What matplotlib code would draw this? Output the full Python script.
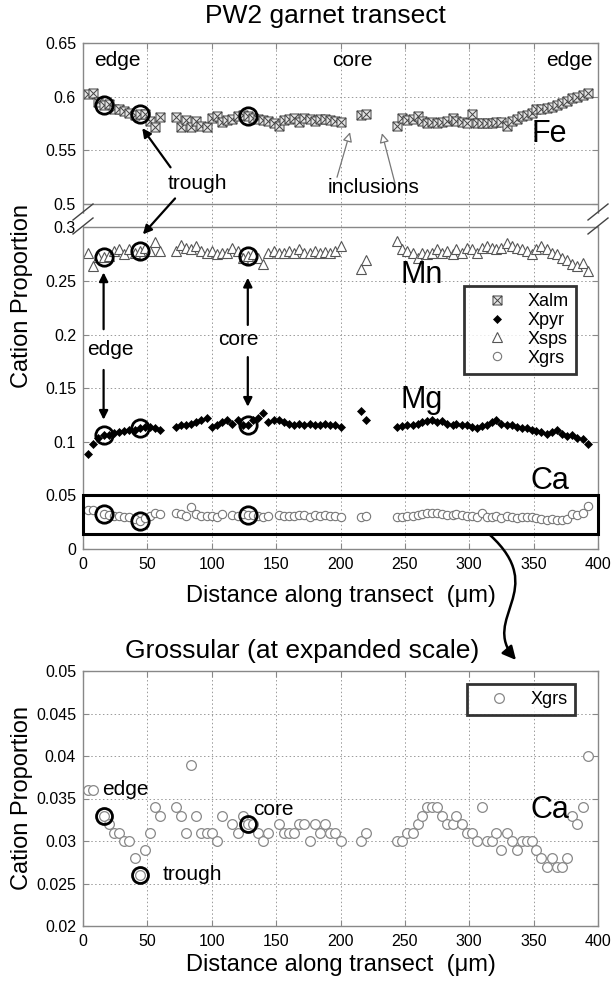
import numpy as np
import matplotlib
matplotlib.use("Agg")
import matplotlib.pyplot as plt
from matplotlib.path import Path
from matplotlib.patches import FancyArrowPatch, Rectangle
from matplotlib.lines import Line2D

plt.rcParams['font.family'] = ['Liberation Sans', 'DejaVu Sans']
nan = np.nan

# distance along transect (um)
dist = [4, 8, 12, 16, 20, 24, 28, 32, 36, 40, 44, 48, 52, 56, 60,
        72, 76, 80, 84, 88, 92, 96, 100, 104, 108, 112, 116, 120, 124, 128,
        132, 136, 140, 144, 148, 152, 156, 160, 164, 168, 172, 176, 180, 184,
        188, 192, 196, 200,
        216, 220,
        244, 248, 252, 256, 260, 263, 267, 271, 275, 279, 283, 287, 290, 294,
        298, 302, 306, 310, 314, 318, 321, 325, 329, 333, 337, 341, 345, 349,
        352, 356, 360, 364, 368, 372, 376, 380, 384, 388, 392]

xalm = [.602, .603, .595, .592, .593, .588, .588, .587, .585, .583, .584, .584, .577, .572, .581,
        .581, .572, .578, .572, .577, .573, .572, .580, .582, .576, .578, .579, .582, .583, .582,
        .580, .579, .578, .577, .575, .573, .578, .579, .580, .576, .580, .579, .577, .579,
        .579, .578, .577, .576,
        .583, .584,
        .573, .5805, .578, .579, .582, .5775, .5755, .576, .5755, .576, .5775, .5805, .5775, .576,
        .5755, .5835, .5755, .5755, .5755, .5755, .576, .576, .573, .5775, .579, .582, .583, .585,
        .588, .588, .5895, .590, .5925, .594, .596, .5985, .600, .6015, .603]

xpyr = [.089, .098, .104, .106, .106, .108, .109, .110, .111, .111, .1125, .114, .114, .1125, .111,
        .114, .1156, .1156, .117, .1187, .1203, .1218, .114, .1156, .1187, .1203, .117, .1203, .1156, .116,
        .1203, .1218, .127, .1187, .1203, .1203, .1187, .117, .1156, .117, .1156, .117, .1156, .116,
        .117, .1156, .116, .114,
        .129, .120,
        .114, .1148, .1156, .116, .117, .1187, .119, .1203, .1187, .119, .117, .116, .117, .116,
        .1156, .114, .113, .1148, .116, .1187, .1203, .117, .116, .1156, .114, .113, .1125, .111,
        .110, .1093, .1077, .1093, .111, .1077, .1055, .106, .1037, .1025, .0984]

xsps = [.276, .264, .272, .272, .273, .278, .2795, .275, .2795, .2763, .278, .281, .278, .286, .278,
        .278, .284, .281, .2795, .2826, .278, .276, .278, .2748, .2763, .2764, .281, .278, .2717, .2732,
        .275, .2717, .2654, .2764, .278, .2764, .2764, .278, .2764, .2795, .2764, .2764, .278, .2764,
        .277, .2764, .278, .2826,
        .2614, .2694,
        .2872, .2795, .278, .2764, .2717, .2764, .275, .2764, .2795, .2764, .278, .275, .2795, .2764,
        .281, .2795, .2764, .281, .2826, .281, .2795, .281, .2857, .2826, .281, .2795, .278, .275,
        .2795, .2826, .2795, .2764, .275, .2717, .270, .2654, .2638, .267, .259]

xgrs = [.036, .036, nan, .033, .032, .031, .031, .030, .030, .028, .026, .029, .031, .034, .033,
        .034, .033, .031, .039, .033, .031, .031, .031, .030, .033, nan, .032, .031, .033, .032,
        .032, .031, .030, .031, nan, .032, .031, .031, .031, .032, .032, .030, .032, .031,
        .032, .031, .031, .030,
        .030, .031,
        .030, .030, .031, .031, .032, .033, .034, .034, .034, .033, .032, .032, .033, .032,
        .031, .031, .030, .034, .030, .030, .031, .029, .031, .030, .029, .030, .030, .030,
        .029, .028, .027, .028, .027, .027, .028, .033, .032, .034, .040]

# highlighted analyses: edge, trough, core
hilite = [3, 10, 29]

yticks_top = [0, 0.05, 0.1, 0.15, 0.2, 0.25, 0.3, 0.5, 0.55, 0.6, 0.65]
ylabels_top = ['0', '0.05', '0.1', '0.15', '0.2', '0.25', '0.3', '0.5', '0.55', '0.6', '0.65']
yticks_bot = [0.02, 0.025, 0.03, 0.035, 0.04, 0.045, 0.05]
ylabels_bot = ['0.02', '0.025', '0.03', '0.035', '0.04', '0.045', '0.05']
xticks = [0, 50, 100, 150, 200, 250, 300, 350, 400]

dist = np.array(dist, float)
xalm = np.array(xalm); xpyr = np.array(xpyr); xsps = np.array(xsps); xgrs = np.array(xgrs)

# broken y axis: squeeze 0.3 - 0.5 into a small gap
GAP = 0.022
def fwd(y):
    y = np.asarray(y, float)
    return np.where(y <= 0.3, y, np.where(y >= 0.5, y - 0.2 + GAP, 0.3 + (y - 0.3) * GAP / 0.2))

def inv(t):
    t = np.asarray(t, float)
    return np.where(t <= 0.3, t, np.where(t >= 0.3 + GAP, t + 0.2 - GAP, 0.3 + (t - 0.3) * 0.2 / GAP))

# square with a cross, for Xalm
alm_marker = Path([(-1, -1), (1, -1), (1, 1), (-1, 1), (-1, -1), (-1, -1), (1, 1), (-1, 1), (1, -1)],
                  [Path.MOVETO, Path.LINETO, Path.LINETO, Path.LINETO, Path.CLOSEPOLY,
                   Path.MOVETO, Path.LINETO, Path.MOVETO, Path.LINETO])

W, H = 612, 985
fig = plt.figure(figsize=(W / 100, H / 100), dpi=100)
ax = fig.add_axes([83 / W, 1 - 549 / H, 515 / W, 506 / H])
ax2 = fig.add_axes([83 / W, 1 - 926 / H, 515 / W, 255 / H])

def style(a):
    for s in a.spines.values():
        s.set_color('#888888')
        s.set_linewidth(1)
    a.tick_params(direction='in', length=4, width=0.8, color='#888888', top=True, right=True,
                  labelsize=11.5, pad=5)
    a.tick_params(axis='x', pad=6)
    a.grid(True, color='#999999', linestyle=(0, (1.5, 2.5)), linewidth=0.7)
    a.set_axisbelow(True)
    a.set_xlim(0, 400)
    a.set_xticks(xticks)
    a.set_xticklabels([str(t) for t in xticks])

def legend_box(a, handles, center):
    lg = a.legend(handles=handles, loc='center', bbox_to_anchor=center, fontsize=13,
                  frameon=True, fancybox=False, numpoints=1, handlelength=2.8,
                  handletextpad=0.3, labelspacing=0.1, borderpad=0.4, borderaxespad=0)
    lg.get_frame().set_edgecolor('k')
    lg.get_frame().set_linewidth(2)
    return lg

# ---------------- top panel ----------------
style(ax)
ax.set_yscale('function', functions=(fwd, inv))
ax.set_ylim(0, 0.65)
ax.set_yticks(yticks_top)
ax.set_yticklabels(ylabels_top)
ax.axhline(0.3, color='#888888', lw=1)
ax.axhline(0.5, color='#888888', lw=1)

l_alm, = ax.plot(dist, xalm, ls='none', marker=alm_marker, ms=6.5, mfc='#e4e4e4', mec='#444444', mew=0.7, label='Xalm')
l_pyr, = ax.plot(dist, xpyr, ls='none', marker='D', ms=4.5, mfc='k', mec='k', mew=0.5, label='Xpyr')
l_sps, = ax.plot(dist, xsps, ls='none', marker='^', ms=6.5, mfc='white', mec='#555555', mew=0.8, label='Xsps')
l_grs, = ax.plot(dist, xgrs, ls='none', marker='o', ms=6, mfc='white', mec='#777777', mew=0.8, label='Xgrs')

for ser in (xalm, xpyr, xsps, xgrs):
    ax.plot(dist[hilite], ser[hilite], ls='none', marker='o', ms=12.5, mfc='none', mec='k', mew=2, zorder=5)

legend_box(ax, [l_alm, l_pyr, l_sps, l_grs], (0.8485, 0.433))

# box around Ca data
ax.add_patch(Rectangle((0, 0.014), 400, 0.0365, fill=False, ec='k', lw=2.2, zorder=6, clip_on=False))

big = dict(fontsize=22, ha='center', va='center')
ax.text(362, 0.565, 'Fe', **big)
ax.text(263, 0.256, 'Mn', **big)
ax.text(263, 0.139, 'Mg', **big)
ax.text(363, 0.0636, 'Ca', **big)

lab = dict(fontsize=15, ha='center', va='center')
ax.text(27, 0.634, 'edge', **lab)
ax.text(209, 0.634, 'core', **lab)
ax.text(378, 0.634, 'edge', **lab)
ax.text(88.5, 0.519, 'trough', **lab)
ax.text(226, 0.5154, 'inclusions', **lab)
ax.text(21, 0.186, 'edge', **lab)
ax.text(121, 0.195, 'core', **lab)

arr = dict(arrowstyle='-|>', color='k', lw=1.6, mutation_scale=13, shrinkA=0, shrinkB=0)
ax.annotate('', xy=(46, 0.5706), xytext=(68, 0.534), arrowprops=arr)
ax.annotate('', xy=(46.5, 0.2935), xytext=(71.5, 0.505), arrowprops=arr)
ax.annotate('', xy=(dist[3], 0.258), xytext=(dist[3], 0.205), arrowprops=arr)
ax.annotate('', xy=(dist[3], 0.1206), xytext=(dist[3], 0.167), arrowprops=arr)
ax.annotate('', xy=(dist[29], 0.253), xytext=(dist[29], 0.209), arrowprops=arr)
ax.annotate('', xy=(dist[29], 0.1327), xytext=(dist[29], 0.179), arrowprops=arr)

garr = dict(arrowstyle='-|>', edgecolor='#777777', facecolor='white', lw=0.9, mutation_scale=14,
            shrinkA=0, shrinkB=0)
ax.annotate('', xy=(207.4, 0.5668), xytext=(197.3, 0.5248), arrowprops=garr)
ax.annotate('', xy=(232.2, 0.5659), xytext=(242.3, 0.5192), arrowprops=garr)

ax.set_xlabel('Distance along transect  (μm)', fontsize=17)
ax.xaxis.set_label_coords(0.5, -0.071)
ax.set_ylabel('Cation Proportion', fontsize=17)
ax.yaxis.set_label_coords(-0.097, 0.5)
fig.text(325 / W, 1 - 16 / H, 'PW2 garnet transect', fontsize=19, ha='center', va='center')

# break marks on both sides of the top panel (figure pixels)
def fp(x, y):
    return x / W, 1 - y / H

for xs in (83, 598):
    xa, ya = fp(xs, 214.5)
    xb, yb = fp(xs, 223.5)
    fig.add_artist(Line2D([xa, xb], [ya, yb], color='white', lw=2.5, transform=fig.transFigure))
    for yc in (212, 226):
        x0, y0 = fp(xs - 10, yc + 8)
        x1, y1 = fp(xs + 10, yc - 8)
        fig.add_artist(Line2D([x0, x1], [y0, y1], color='#444444', lw=1, transform=fig.transFigure))

# ---------------- bottom panel ----------------
style(ax2)
ax2.set_ylim(0.02, 0.05)
ax2.set_yticks(yticks_bot)
ax2.set_yticklabels(ylabels_bot)
g2, = ax2.plot(dist, xgrs, ls='none', marker='o', ms=7, mfc='white', mec='#888888', mew=0.9, label='Xgrs')
ax2.plot(dist[hilite], xgrs[hilite], ls='none', marker='o', ms=11.5, mfc='none', mec='k', mew=2, zorder=5)

legend_box(ax2, [g2], (0.85, 0.888))

ax2.text(14.8, 0.0361, 'edge', fontsize=15, ha='left', va='center')
ax2.text(132, 0.03365, 'core', fontsize=15, ha='left', va='center')
ax2.text(62, 0.026, 'trough', fontsize=15, ha='left', va='center')
ax2.text(362.7, 0.03365, 'Ca', fontsize=22, ha='center', va='center')

ax2.set_xlabel('Distance along transect  (μm)', fontsize=17)
ax2.xaxis.set_label_coords(0.5, -0.11)
ax2.set_ylabel('Cation Proportion', fontsize=17)
ax2.yaxis.set_label_coords(-0.097, 0.5)
fig.text(302 / W, 1 - 651 / H, 'Grossular (at expanded scale)', fontsize=19, ha='center', va='center')

# curved arrow from the Ca box down to the expanded panel
pts = [fp(490, 535), fp(550, 590), fp(480, 618), fp(516, 660)]
curve = Path(pts, [Path.MOVETO, Path.CURVE4, Path.CURVE4, Path.CURVE4])
fig.add_artist(FancyArrowPatch(path=curve, arrowstyle='-|>', mutation_scale=20, lw=1.8,
                               color='k', transform=fig.transFigure))

fig.savefig('out.png', dpi=100)
